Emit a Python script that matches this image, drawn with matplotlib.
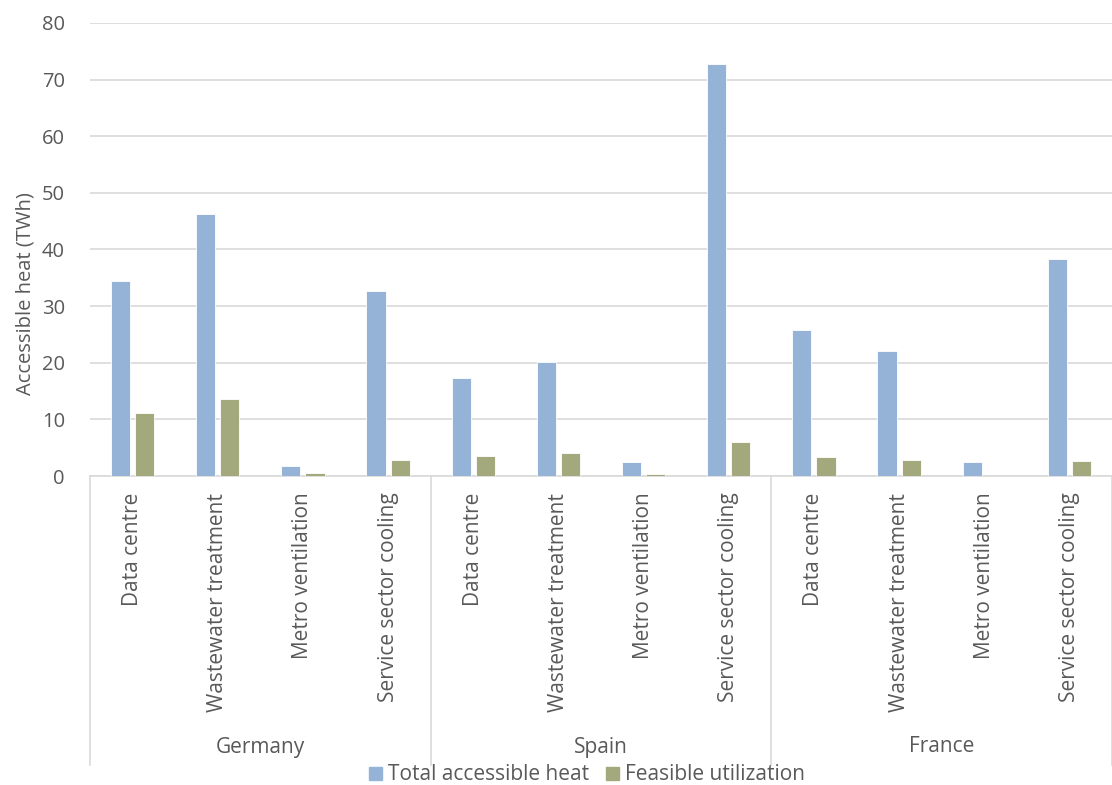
import matplotlib.pyplot as plt
from matplotlib.lines import Line2D
from matplotlib.patches import Patch
import numpy as np

countries = ['Germany', 'Spain', 'France']
sources = ['Data centre', 'Wastewater treatment', 'Metro ventilation', 'Service sector cooling']
total_heat = [34.4, 46.3, 1.8, 32.7,
              17.3, 20.1, 2.4, 72.8,
              25.7, 22.0, 2.5, 38.3]
feasible = [11.1, 13.6, 0.5, 2.8,
            3.5, 4.0, 0.3, 6.0,
            3.3, 2.8, 0.0, 2.7]

blue = '#95B3D7'
green = '#A4A97D'
grey_txt = '#595959'
grid_col = '#D9D9D9'

plt.rcParams['font.family'] = ['Open Sans', 'DejaVu Sans']

fig = plt.figure(figsize=(11.12, 7.85), dpi=100)
ax = fig.add_axes([90 / 1112, 1 - 476 / 785, 1 - 90 / 1112, (476 - 23) / 785])

x = np.arange(len(total_heat))
w = 0.225
ax.bar(x - 0.1425, total_heat, width=w, color=blue, edgecolor='white', linewidth=0.6, zorder=3)
ax.bar(x + 0.1425, feasible, width=w, color=green, edgecolor='white', linewidth=0.6, zorder=3)

ax.set_xlim(-0.5, len(x) - 0.5)
ax.set_ylim(0, 80)
ax.set_yticks(range(0, 81, 10))
ax.yaxis.grid(True, color=grid_col, linewidth=1.2, zorder=0)
ax.tick_params(axis='y', length=0, pad=18, labelsize=14.5, labelcolor=grey_txt)
for s in ['left', 'right', 'top']:
    ax.spines[s].set_visible(False)
ax.spines['bottom'].set_color(grid_col)
ax.spines['bottom'].set_linewidth(1.2)

ax.set_xticks(x)
ax.set_xticklabels(sources * len(countries), rotation=90, va='top', ha='center',
                   fontsize=15, color=grey_txt)
ax.tick_params(axis='x', length=0, pad=12)

ax.set_ylabel('Accessible heat (TWh)', fontsize=14.5, color=grey_txt)
ax.yaxis.set_label_coords(-0.053, 0.402)

# group separators and country labels
n = len(sources)
sep_bottom = -(765 - 476) / (476 - 23)
for i in range(len(countries) + 1):
    xpos = (i * n) / len(x)
    ax.add_line(Line2D([xpos, xpos], [0, sep_bottom], transform=ax.transAxes,
                       color=grid_col, linewidth=1.2, clip_on=False))
for i, c in enumerate(countries):
    ax.text((i * n + n / 2) / len(x), -(747 - 476) / (476 - 23), c,
            transform=ax.transAxes, ha='center', va='center', fontsize=15, color=grey_txt)

handles = [Patch(color=blue), Patch(color=green)]
fig.legend(handles, ['Total accessible heat', 'Feasible utilization'],
           loc='center', bbox_to_anchor=(0.528, 1 - 775 / 785), ncol=2, frameon=False,
           fontsize=15, labelcolor=grey_txt, handlelength=0.6, handleheight=0.6,
           handletextpad=0.3, columnspacing=0.8)

fig.savefig('out.png', dpi=100)
